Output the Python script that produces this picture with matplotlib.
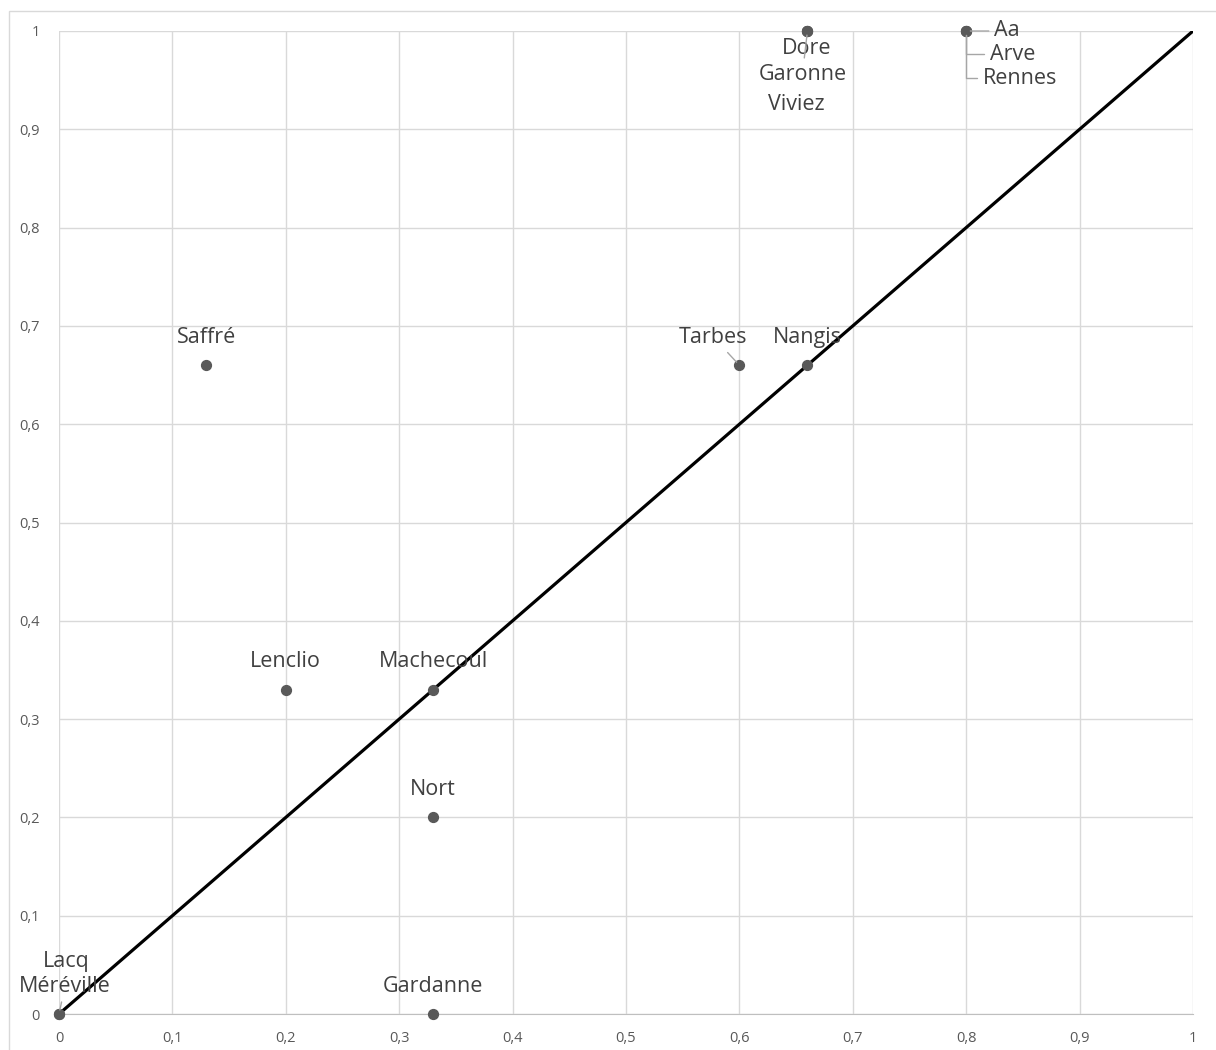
import numpy as np
import matplotlib
matplotlib.use("Agg")
from matplotlib import pyplot as plt
from matplotlib.patches import Rectangle

plt.rcParams['font.family'] = ['Open Sans', 'DejaVu Sans']

# Données
noms = ['Aa', 'Arve', 'Rennes', 'Dore', 'Garonne', 'Viviez', 'Saffré', 'Tarbes',
        'Nangis', 'Lenclio', 'Machecoul', 'Nort', 'Gardanne', 'Lacq', 'Méréville']
xs = [0.8, 0.8, 0.8, 0.66, 0.66, 0.66, 0.13, 0.6, 0.66, 0.2, 0.33, 0.33, 0.33, 0.0, 0.0]
ys = [1.0, 1.0, 1.0, 1.0, 1.0, 1.0, 0.66, 0.66, 0.66, 0.33, 0.33, 0.2, 0.0, 0.0, 0.0]
ticks = [0, 0.1, 0.2, 0.3, 0.4, 0.5, 0.6, 0.7, 0.8, 0.9, 1]
tick_labels = ['0', '0,1', '0,2', '0,3', '0,4', '0,5', '0,6', '0,7', '0,8', '0,9', '1']
diag = [0, 1]

# décalage des étiquettes (pixels) et lignes de rappel
offsets = {'Aa': (41, 0), 'Arve': (46, -23), 'Rennes': (54, -47),
           'Dore': (-1, -17), 'Garonne': (-5, -43), 'Viviez': (-11, -73),
           'Saffré': (0, 28), 'Tarbes': (-26, 28), 'Nangis': (0, 28),
           'Lenclio': (0, 28), 'Machecoul': (0, 28), 'Nort': (0, 28),
           'Gardanne': (0, 28), 'Lacq': (7, 52), 'Méréville': (6, 28)}
leaders = {'Aa': "arc3", 'Arve': "angle,angleA=0,angleB=90,rad=0",
           'Rennes': "angle,angleA=0,angleB=90,rad=0", 'Garonne': "arc3",
           'Tarbes': "arc3", 'Méréville': "arc3"}

fig = plt.figure(figsize=(12.16, 10.5), dpi=100)
ax = fig.add_axes([59/1216, 1 - 1014/1050, (1193-59)/1216, (1014-31)/1050])

# bordure du graphique
fig.patches.append(Rectangle((9/1216, -0.01), 1.1, 1 - 11/1050 + 0.01, transform=fig.transFigure,
                             fill=False, edgecolor='#d9d9d9', lw=1))

ax.set_xlim(0, 1)
ax.set_ylim(0, 1)
ax.set_xticks(ticks)
ax.set_xticklabels(tick_labels)
ax.set_yticks(ticks)
ax.set_yticklabels(tick_labels)
ax.grid(True, color='#d9d9d9', lw=1)
ax.set_axisbelow(True)
for s in ['top', 'right', 'left']:
    ax.spines[s].set_visible(False)
ax.spines['bottom'].set_color('#bfbfbf')
ax.tick_params(length=0, labelsize=10.5, colors='#595959', pad=12)
ax.tick_params(axis='y', pad=14)

ax.plot(diag, diag, color='black', lw=2.3, zorder=3)
ax.scatter(xs, ys, s=50, color='#595959', zorder=4, clip_on=False)

for n, x, y in zip(noms, xs, ys):
    dx, dy = offsets[n]
    props = None
    if n in leaders:
        props = dict(arrowstyle='-', color='#a6a6a6', lw=1, connectionstyle=leaders[n],
                     shrinkA=2, shrinkB=3)
    ax.annotate(n, (x, y), xytext=(dx, dy), textcoords='offset pixels',
                ha='center', va='center', fontsize=15.5, color='#404040',
                arrowprops=props, zorder=5, annotation_clip=False)

fig.savefig('out.png', dpi=100)
